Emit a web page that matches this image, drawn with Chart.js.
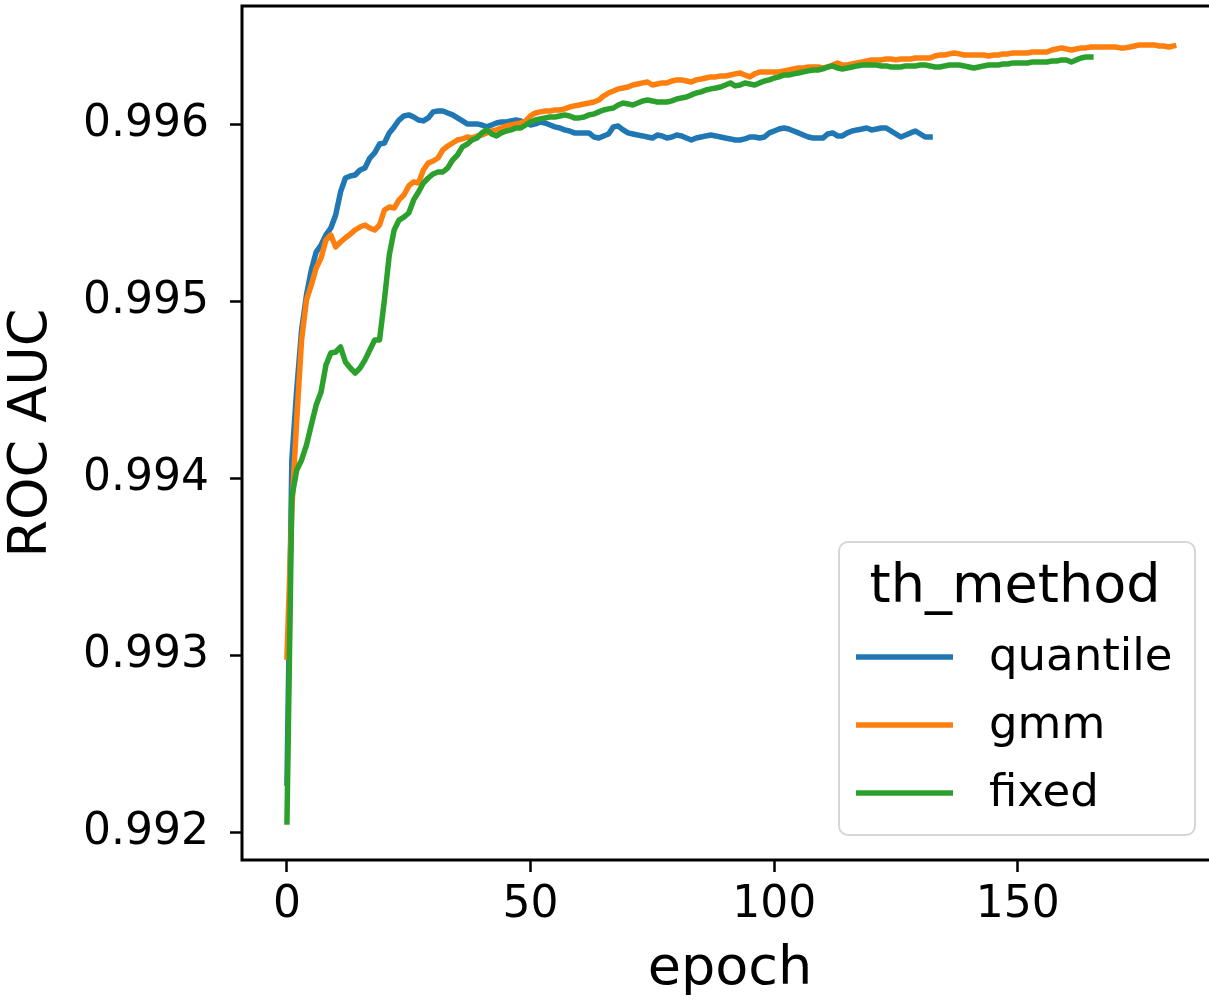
<!DOCTYPE html>
<html>
<head>
<meta charset="utf-8">
<title>ROC AUC per epoch</title>
<script src="https://cdn.jsdelivr.net/npm/chart.js@4.4.1/dist/chart.umd.min.js"></script>
<style>
  html, body { margin: 0; padding: 0; background: #fff; overflow: hidden; }
  body { width: 1209px; height: 1002px; }
  #roc { display: block; }
</style>
</head>
<body>
<canvas id="roc" width="1240" height="1002"></canvas>
<script>
// validation ROC AUC per epoch for each threshold method
const methodNames = ['quantile', 'gmm', 'fixed'];
const methodColors = ['#1f77b4', '#ff7f0e', '#2ca02c'];
const legendTitle = 'th_method';
const xTicks = [0, 50, 100, 150];
const yTicks = [0.992, 0.993, 0.994, 0.995, 0.996];

const quantileAuc = [
    0.992277, 0.994105, 0.994501, 0.994840, 0.995038, 0.995180, 0.995281, 0.995321, 0.995378, 0.995417,
    0.995491, 0.995621, 0.995700, 0.995711, 0.995717, 0.995745, 0.995757, 0.995813, 0.995842, 0.995892,
    0.995898, 0.995955, 0.995989, 0.996028, 0.996051, 0.996057, 0.996045, 0.996028, 0.996023, 0.996040,
    0.996074, 0.996079, 0.996079, 0.996068, 0.996057, 0.996040, 0.996023, 0.996006, 0.996006, 0.996006,
    0.996000, 0.995989, 0.996000, 0.996011, 0.996017, 0.996017, 0.996023, 0.996028, 0.996023, 0.996011,
    0.996000, 0.996006, 0.996017, 0.996011, 0.996000, 0.995989, 0.995983, 0.995972, 0.995966, 0.995955,
    0.995955, 0.995955, 0.995955, 0.995932, 0.995926, 0.995938, 0.995949, 0.995989, 0.995994, 0.995972,
    0.995955, 0.995949, 0.995943, 0.995938, 0.995932, 0.995926, 0.995943, 0.995938, 0.995926, 0.995932,
    0.995943, 0.995938, 0.995926, 0.995915, 0.995926, 0.995932, 0.995938, 0.995943, 0.995938, 0.995932,
    0.995926, 0.995921, 0.995915, 0.995915, 0.995921, 0.995932, 0.995932, 0.995926, 0.995932, 0.995955,
    0.995966, 0.995977, 0.995983, 0.995977, 0.995966, 0.995955, 0.995943, 0.995932, 0.995926, 0.995926,
    0.995926, 0.995949, 0.995955, 0.995938, 0.995938, 0.995955, 0.995966, 0.995972, 0.995977, 0.995983,
    0.995972, 0.995977, 0.995983, 0.995983, 0.995966, 0.995949, 0.995932, 0.995943, 0.995955, 0.995966,
    0.995949, 0.995932, 0.995932
];

const gmmAuc = [
    0.992990, 0.993822, 0.994331, 0.994784, 0.995010, 0.995095, 0.995191, 0.995248, 0.995349, 0.995378,
    0.995310, 0.995338, 0.995361, 0.995383, 0.995406, 0.995423, 0.995434, 0.995417, 0.995406, 0.995434,
    0.995519, 0.995536, 0.995530, 0.995576, 0.995604, 0.995655, 0.995678, 0.995672, 0.995745, 0.995785,
    0.995796, 0.995813, 0.995859, 0.995881, 0.995898, 0.995915, 0.995921, 0.995932, 0.995926, 0.995938,
    0.995943, 0.995955, 0.995966, 0.995972, 0.995983, 0.995994, 0.996000, 0.996006, 0.996011, 0.996023,
    0.996051, 0.996068, 0.996074, 0.996079, 0.996079, 0.996085, 0.996085, 0.996091, 0.996102, 0.996108,
    0.996113, 0.996119, 0.996124, 0.996130, 0.996141, 0.996164, 0.996181, 0.996192, 0.996204, 0.996209,
    0.996215, 0.996226, 0.996232, 0.996238, 0.996243, 0.996226, 0.996232, 0.996238, 0.996238, 0.996249,
    0.996255, 0.996255, 0.996249, 0.996243, 0.996255, 0.996260, 0.996266, 0.996272, 0.996272, 0.996277,
    0.996277, 0.996283, 0.996289, 0.996294, 0.996283, 0.996272, 0.996289, 0.996300, 0.996300, 0.996300,
    0.996300, 0.996300, 0.996306, 0.996311, 0.996317, 0.996322, 0.996322, 0.996328, 0.996328, 0.996328,
    0.996322, 0.996328, 0.996339, 0.996351, 0.996339, 0.996339, 0.996345, 0.996351, 0.996356, 0.996362,
    0.996368, 0.996368, 0.996368, 0.996373, 0.996373, 0.996368, 0.996373, 0.996373, 0.996373, 0.996379,
    0.996379, 0.996379, 0.996379, 0.996390, 0.996396, 0.996396, 0.996402, 0.996407, 0.996402, 0.996396,
    0.996396, 0.996396, 0.996396, 0.996396, 0.996390, 0.996396, 0.996396, 0.996402, 0.996402, 0.996407,
    0.996407, 0.996407, 0.996407, 0.996413, 0.996413, 0.996413, 0.996413, 0.996424, 0.996430, 0.996436,
    0.996430, 0.996424, 0.996430, 0.996436, 0.996436, 0.996441, 0.996441, 0.996441, 0.996441, 0.996441,
    0.996441, 0.996436, 0.996436, 0.996441, 0.996447, 0.996453, 0.996453, 0.996453, 0.996453, 0.996447,
    0.996447, 0.996441, 0.996447
];

const fixedAuc = [
    0.992057, 0.993895, 0.994048, 0.994105, 0.994189, 0.994303, 0.994416, 0.994489, 0.994642, 0.994710,
    0.994716, 0.994744, 0.994659, 0.994625, 0.994597, 0.994625, 0.994670, 0.994727, 0.994784, 0.994784,
    0.995010, 0.995264, 0.995406, 0.995462, 0.995479, 0.995502, 0.995576, 0.995621, 0.995672, 0.995700,
    0.995723, 0.995734, 0.995734, 0.995757, 0.995802, 0.995830, 0.995876, 0.995892, 0.995915, 0.995926,
    0.995955, 0.995972, 0.995949, 0.995938, 0.995955, 0.995966, 0.995972, 0.995983, 0.995983, 0.996000,
    0.996017, 0.996028, 0.996034, 0.996040, 0.996045, 0.996045, 0.996051, 0.996057, 0.996051, 0.996040,
    0.996040, 0.996045, 0.996057, 0.996062, 0.996074, 0.996085, 0.996091, 0.996096, 0.996113, 0.996124,
    0.996119, 0.996113, 0.996124, 0.996136, 0.996141, 0.996136, 0.996130, 0.996130, 0.996130, 0.996136,
    0.996147, 0.996153, 0.996158, 0.996170, 0.996181, 0.996187, 0.996198, 0.996204, 0.996209, 0.996215,
    0.996226, 0.996238, 0.996221, 0.996226, 0.996238, 0.996232, 0.996226, 0.996238, 0.996249, 0.996255,
    0.996266, 0.996272, 0.996283, 0.996283, 0.996289, 0.996294, 0.996300, 0.996306, 0.996311, 0.996311,
    0.996317, 0.996328, 0.996334, 0.996322, 0.996317, 0.996322, 0.996328, 0.996334, 0.996339, 0.996339,
    0.996339, 0.996339, 0.996334, 0.996334, 0.996328, 0.996328, 0.996328, 0.996334, 0.996334, 0.996334,
    0.996339, 0.996339, 0.996334, 0.996328, 0.996328, 0.996334, 0.996339, 0.996339, 0.996339, 0.996334,
    0.996328, 0.996322, 0.996328, 0.996334, 0.996339, 0.996339, 0.996339, 0.996345, 0.996345, 0.996351,
    0.996351, 0.996351, 0.996351, 0.996356, 0.996356, 0.996356, 0.996356, 0.996362, 0.996362, 0.996368,
    0.996368, 0.996356, 0.996368, 0.996379, 0.996385, 0.996385
];

const FONT = 'DejaVu Sans';

// one point per epoch, epoch = position in the array
function toPoints(values) {
    return values.map((v, i) => ({ x: i, y: v }));
}

// full box around the plot area, drawn over the lines like matplotlib spines
const axesFrame = {
    id: 'axesFrame',
    afterDatasetsDraw(chart) {
        const { left, top, right, bottom } = chart.chartArea;
        const ctx = chart.ctx;
        ctx.save();
        ctx.strokeStyle = '#000';
        ctx.lineWidth = 3;
        ctx.strokeRect(left, top, right - left, bottom - top);
        ctx.restore();
    }
};

// legend box in the lower right corner of the plot
const legendBox = {
    id: 'legendBox',
    afterDraw(chart) {
        const ctx = chart.ctx;
        const bx = 839, by = 542, bw = 356, bh = 293;
        ctx.save();
        ctx.beginPath();
        ctx.roundRect(bx, by, bw, bh, 9);
        ctx.fillStyle = 'rgba(255,255,255,0.8)';
        ctx.fill();
        ctx.strokeStyle = '#d6d6d6';
        ctx.lineWidth = 2;
        ctx.stroke();

        ctx.fillStyle = '#000';
        ctx.font = '54px "' + FONT + '"';
        ctx.textAlign = 'center';
        ctx.textBaseline = 'alphabetic';
        ctx.fillText(legendTitle, bx + bw / 2 - 2, 602);

        ctx.font = '45px "' + FONT + '"';
        ctx.textAlign = 'left';
        chart.data.datasets.forEach((ds, i) => {
            const ly = 657 + i * 68;
            ctx.strokeStyle = ds.borderColor;
            ctx.lineWidth = 5.5;
            ctx.beginPath();
            ctx.moveTo(856, ly);
            ctx.lineTo(953, ly);
            ctx.stroke();
            ctx.fillText(ds.label, 989, ly + 13);
        });
        ctx.restore();
    }
};

const seriesValues = [quantileAuc, gmmAuc, fixedAuc];

new Chart(document.getElementById('roc'), {
    type: 'line',
    data: {
        datasets: methodNames.map((name, i) => ({
            label: name,
            data: toPoints(seriesValues[i]),
            borderColor: methodColors[i],
            backgroundColor: methodColors[i],
            borderWidth: 5.5,
            pointRadius: 0,
            tension: 0,
            fill: false,
            borderJoinStyle: 'round',
            borderCapStyle: 'square',
            order: methodNames.length - i   // later methods on top
        }))
    },
    options: {
        responsive: false,
        animation: false,
        layout: { padding: { top: 6, right: 22, bottom: 0, left: 0 } },
        plugins: {
            legend: { display: false },
            tooltip: { enabled: false }
        },
        scales: {
            x: {
                type: 'linear',
                min: -9.23,
                max: 191.1,
                afterBuildTicks: s => { s.ticks = xTicks.map(v => ({ value: v })); },
                afterFit: s => { s.height = 142; s.paddingLeft = 0; s.paddingRight = 0; },
                border: { display: false },
                grid: { drawOnChartArea: false, tickLength: 12, tickWidth: 2.5, tickColor: '#000' },
                ticks: {
                    color: '#000',
                    padding: 7,
                    maxRotation: 0,
                    autoSkip: false,
                    font: { family: FONT, size: 44 },
                    callback: v => String(v)
                },
                title: {
                    display: true,
                    text: 'epoch',
                    color: '#000',
                    padding: 0,
                    font: { family: FONT, size: 54 }
                }
            },
            y: {
                type: 'linear',
                min: 0.991842,
                max: 0.996673,
                afterBuildTicks: s => { s.ticks = yTicks.map(v => ({ value: v })); },
                afterFit: s => { s.width = 242; s.paddingTop = 0; s.paddingBottom = 0; },
                border: { display: false },
                grid: { drawOnChartArea: false, tickLength: 12, tickWidth: 2.5, tickColor: '#000' },
                ticks: {
                    color: '#000',
                    padding: 21,
                    autoSkip: false,
                    font: { family: FONT, size: 44 },
                    callback: v => v.toFixed(3)
                },
                title: {
                    display: true,
                    text: 'ROC AUC',
                    color: '#000',
                    padding: 0,
                    font: { family: FONT, size: 54 }
                }
            }
        }
    },
    plugins: [axesFrame, legendBox]
});
</script>
</body>
</html>
